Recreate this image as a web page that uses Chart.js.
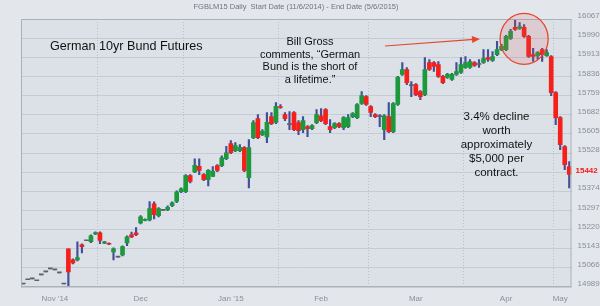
<!DOCTYPE html>
<html>
<head>
<meta charset="utf-8">
<script src="https://cdn.jsdelivr.net/npm/chart.js@4.4.1/dist/chart.umd.min.js"></script>
<style>
  html, body { margin: 0; padding: 0; background: #e3e7ec; }
  canvas { display: block; }
</style>
</head>
<body>
<canvas id="chart" width="600" height="306"></canvas>
<script>
// FGBLM15 daily candles, 11/6/2014 - 5/6/2015 (one entry per trading day)
const opens = [
  15001, 15018, 15022, 15014, 15038, 15050, 15062, 15058, 15046, 15001,
  15143, 15098, 15098, 15159, 15175, 15171, 15203, 15207, 15165, 15165,
  15130, 15109, 15118, 15166, 15199, 15207, 15247, 15257, 15259, 15324,
  15276, 15297, 15300, 15316, 15333, 15372, 15372, 15437, 15452, 15474,
  15441, 15421, 15434, 15477, 15477, 15505, 15566, 15537, 15537, 15550,
  15429, 15590, 15666, 15602, 15593, 15674, 15651, 15715, 15683, 15642,
  15691, 15650, 15622, 15634, 15626, 15650, 15678, 15703, 15634, 15630,
  15646, 15630, 15634, 15674, 15670, 15727, 15755, 15715, 15683, 15674,
  15622, 15674, 15614, 15723, 15844, 15864, 15799, 15803, 15775, 15763,
  15892, 15892, 15884, 15836, 15832, 15824, 15844, 15852, 15872, 15872,
  15892, 15884, 15892, 15912, 15900, 15924, 15944, 15944, 15989, 16033,
  16029, 16033, 15997, 15924, 15920, 15944, 15920, 15916, 15771, 15670,
  15554, 15473
];
const highs = [
  15001, 15018, 15022, 15014, 15038, 15050, 15062, 15058, 15046, 15001,
  15143, 15102, 15171, 15163, 15175, 15199, 15211, 15211, 15173, 15167,
  15147, 15109, 15155, 15195, 15210, 15228, 15276, 15263, 15333, 15332,
  15308, 15297, 15316, 15332, 15376, 15388, 15441, 15441, 15505, 15505,
  15445, 15461, 15473, 15481, 15517, 15555, 15578, 15570, 15562, 15554,
  15582, 15658, 15683, 15622, 15691, 15691, 15731, 15723, 15691, 15695,
  15695, 15658, 15674, 15638, 15642, 15703, 15707, 15707, 15662, 15650,
  15650, 15674, 15683, 15691, 15727, 15775, 15759, 15719, 15687, 15683,
  15683, 15731, 15731, 15836, 15892, 15872, 15815, 15807, 15779, 15912,
  15904, 15896, 15896, 15840, 15848, 15848, 15892, 15912, 15916, 15904,
  15896, 15904, 15944, 15944, 15936, 15977, 15965, 16001, 16025, 16062,
  16053, 16045, 16001, 15949, 15936, 15949, 15944, 15920, 15775, 15674,
  15558, 15493
];
const lows = [
  15001, 15018, 15022, 15014, 15038, 15050, 15062, 15058, 15046, 15001,
  14989, 15082, 15094, 15126, 15175, 15167, 15199, 15163, 15163, 15159,
  15098, 15109, 15114, 15155, 15187, 15195, 15243, 15255, 15255, 15263,
  15271, 15297, 15296, 15312, 15328, 15368, 15368, 15408, 15449, 15441,
  15417, 15396, 15433, 15453, 15473, 15501, 15525, 15533, 15533, 15453,
  15388, 15586, 15586, 15598, 15570, 15642, 15646, 15707, 15658, 15622,
  15618, 15602, 15610, 15594, 15622, 15646, 15654, 15642, 15610, 15626,
  15630, 15622, 15630, 15670, 15666, 15723, 15719, 15674, 15670, 15634,
  15582, 15610, 15610, 15719, 15840, 15803, 15755, 15759, 15743, 15759,
  15860, 15856, 15832, 15807, 15828, 15820, 15840, 15848, 15868, 15868,
  15876, 15872, 15888, 15896, 15896, 15920, 15940, 15940, 15985, 16021,
  16025, 15993, 15912, 15896, 15904, 15896, 15916, 15759, 15642, 15541,
  15461, 15388
];
const closes = [
  15001, 15018, 15022, 15014, 15038, 15050, 15062, 15058, 15046, 15001,
  15050, 15086, 15107, 15151, 15175, 15195, 15208, 15176, 15171, 15161,
  15143, 15109, 15152, 15191, 15190, 15199, 15271, 15261, 15304, 15280,
  15304, 15297, 15309, 15328, 15371, 15384, 15437, 15414, 15478, 15458,
  15421, 15458, 15454, 15458, 15509, 15529, 15529, 15558, 15551, 15458,
  15550, 15650, 15590, 15615, 15651, 15646, 15716, 15711, 15666, 15642,
  15622, 15618, 15658, 15626, 15638, 15683, 15658, 15646, 15622, 15646,
  15634, 15670, 15670, 15687, 15723, 15759, 15723, 15691, 15674, 15674,
  15678, 15614, 15727, 15832, 15864, 15811, 15799, 15763, 15755, 15864,
  15864, 15876, 15836, 15811, 15844, 15844, 15856, 15884, 15892, 15896,
  15880, 15884, 15908, 15904, 15916, 15944, 15957, 15997, 16017, 16025,
  16037, 15997, 15916, 15916, 15932, 15924, 15932, 15771, 15670, 15562,
  15481, 15442
];

// x axis: index of first trading day of each month, and where the month names sit
const monthStarts = [17, 36, 57, 77, 98, 118];
const monthLabels = ["Nov '14", 'Dec', "Jan '15", 'Feb', 'Mar', 'Apr', 'May'];
const monthLabelAt = [7, 26, 46, 66, 87, 107, 119];

// y axis
const Y_MIN = 14989;
const Y_MAX = 16067;
const Y_STEP = 77;
const LAST_PRICE = 15442;

const GREEN = '#1c9a3b';
const RED = '#f5201a';
const DOJI = '#5b606b';
const WICK = '#434f98';
const AXIS_FONT = "'Liberation Sans Narrow', 'Liberation Sans', sans-serif";
const TEXT_FONT = "'Liberation Sans', Arial, sans-serif";

const days = opens.map((_, i) => String(i));
const bodies = opens.map((o, i) => [o, closes[i]]);
const wicks = lows.map((l, i) => [l, highs[i]]);
const bodyColors = opens.map((o, i) => closes[i] > o ? GREEN : (closes[i] < o ? RED : DOJI));

const decor = {
  id: 'decor',
  beforeDraw(chart) {
    const { ctx, chartArea: a, width, height } = chart;
    ctx.save();
    ctx.fillStyle = '#e3e7ec';
    ctx.fillRect(0, 0, width, height);
    ctx.fillStyle = '#dce1e7';
    ctx.fillRect(a.left, a.top, a.right - a.left, a.bottom - a.top);

    ctx.fillStyle = '#6f747b';
    ctx.font = "7.5px " + AXIS_FONT;
    ctx.textAlign = 'center';
    ctx.textBaseline = 'middle';
    ctx.fillText('FGBLM15 Daily  Start Date (11/6/2014) - End Date (5/6/2015)', 296, 6.5);
    ctx.restore();
  },
  afterDraw(chart) {
    const { ctx, chartArea: a } = chart;
    const xs = chart.scales.x, ys = chart.scales.y;
    ctx.save();

    // plot frame
    ctx.strokeStyle = '#aab1ba';
    ctx.lineWidth = 1;
    ctx.strokeRect(a.left + 0.5, a.top + 0.5, a.right - a.left - 1, a.bottom - a.top - 1);

    // last price tag
    ctx.fillStyle = '#f01c1c';
    ctx.font = "bold 8px " + AXIS_FONT;
    ctx.textAlign = 'left';
    ctx.textBaseline = 'middle';
    ctx.fillText(String(LAST_PRICE), a.right + 4, ys.getPixelForValue(LAST_PRICE) - 4);

    // circle round the top
    const cx = xs.getPixelForValue(111);
    const cy = ys.getPixelForValue(15987);
    ctx.beginPath();
    ctx.ellipse(cx, cy, 24, 25.5, 0, 0, Math.PI * 2);
    ctx.fillStyle = 'rgba(226, 96, 86, 0.16)';
    ctx.fill();
    ctx.strokeStyle = '#e8452d';
    ctx.lineWidth = 1.3;
    ctx.stroke();

    // arrow
    const x0 = 385, y0 = 46, x1 = 480, y1 = 39;
    const ang = Math.atan2(y1 - y0, x1 - x0);
    ctx.beginPath();
    ctx.moveTo(x0, y0);
    ctx.lineTo(x1 - 6 * Math.cos(ang), y1 - 6 * Math.sin(ang));
    ctx.strokeStyle = '#e8452d';
    ctx.lineWidth = 1.2;
    ctx.stroke();
    ctx.beginPath();
    ctx.moveTo(x1, y1);
    ctx.lineTo(x1 - 8 * Math.cos(ang) + 3.5 * Math.sin(ang), y1 - 8 * Math.sin(ang) - 3.5 * Math.cos(ang));
    ctx.lineTo(x1 - 8 * Math.cos(ang) - 3.5 * Math.sin(ang), y1 - 8 * Math.sin(ang) + 3.5 * Math.cos(ang));
    ctx.closePath();
    ctx.fillStyle = '#e8452d';
    ctx.fill();

    // texts
    ctx.fillStyle = '#111111';
    ctx.textBaseline = 'middle';
    ctx.textAlign = 'left';
    ctx.font = "12.6px " + TEXT_FONT;
    ctx.fillText('German 10yr Bund Futures', 50, 47);

    ctx.textAlign = 'center';
    ctx.font = "11px " + TEXT_FONT;
    ['Bill Gross', 'comments, \u201cGerman', 'Bund is the short of', 'a lifetime.\u201d']
      .forEach((t, i) => ctx.fillText(t, 310, 42 + i * 12.6));

    ctx.font = "11.5px " + TEXT_FONT;
    ['3.4% decline', 'worth', 'approximately', '$5,000 per', 'contract.']
      .forEach((t, i) => ctx.fillText(t, 496.5, 117 + i * 14));

    ctx.restore();
  }
};

new Chart(document.getElementById('chart'), {
  type: 'bar',
  data: {
    labels: days,
    datasets: [
      {
        data: bodies,
        backgroundColor: bodyColors,
        borderWidth: 0,
        barThickness: 4,
        minBarLength: 1,
        grouped: false
      },
      {
        data: wicks,
        backgroundColor: WICK,
        borderWidth: 0,
        barThickness: 1.5,
        grouped: false
      }
    ]
  },
  options: {
    responsive: false,
    animation: false,
    events: [],
    layout: { padding: { left: 21, top: 19, right: 0, bottom: 0 } },
    plugins: {
      legend: { display: false },
      tooltip: { enabled: false }
    },
    scales: {
      x: {
        type: 'category',
        offset: true,
        grid: {
          offset: true,
          drawTicks: false,
          lineWidth: 1,
          color: ctx => monthStarts.includes(ctx.index) ? '#b8bfc8' : 'rgba(0,0,0,0)'
        },
        border: { display: false, dash: [1, 2] },
        ticks: {
          autoSkip: false,
          maxRotation: 0,
          minRotation: 0,
          padding: 7,
          color: '#8a8f97',
          font: { family: AXIS_FONT, size: 8 },
          callback: (v, i) => {
            const k = monthLabelAt.indexOf(i);
            return k >= 0 ? monthLabels[k] : '';
          }
        },
        afterFit: s => { s.height = 19; }
      },
      y: {
        position: 'right',
        min: Y_MIN,
        max: Y_MAX,
        grid: { color: '#c6ccd4', drawTicks: false },
        border: { display: false },
        ticks: {
          stepSize: Y_STEP,
          padding: 6,
          labelOffset: -3,
          color: '#8a8f97',
          font: { family: AXIS_FONT, size: 8 },
          callback: v => Math.abs(v - LAST_PRICE) < 20 ? '' : String(v)
        },
        afterFit: s => { s.width = 28.5; }
      }
    }
  },
  plugins: [decor]
});
</script>
</body>
</html>
